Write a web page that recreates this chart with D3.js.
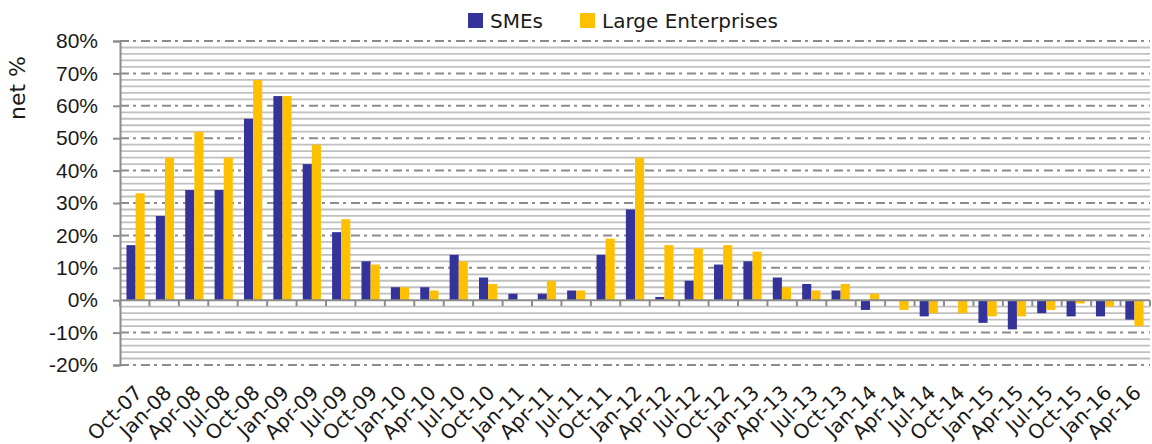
<!DOCTYPE html>
<html>
<head>
<meta charset="utf-8">
<script src="https://cdn.jsdelivr.net/npm/d3@7"></script>
<style>
  body { margin: 0; background: #fff; }
  svg { font-family: "DejaVu Sans", sans-serif; }
</style>
</head>
<body>
<svg id="chart" width="1152" height="444"></svg>
<script>
const quarters = ['Oct-07', 'Jan-08', 'Apr-08', 'Jul-08', 'Oct-08', 'Jan-09', 'Apr-09', 'Jul-09', 'Oct-09',
  'Jan-10', 'Apr-10', 'Jul-10', 'Oct-10', 'Jan-11', 'Apr-11', 'Jul-11', 'Oct-11', 'Jan-12', 'Apr-12',
  'Jul-12', 'Oct-12', 'Jan-13', 'Apr-13', 'Jul-13', 'Oct-13', 'Jan-14', 'Apr-14', 'Jul-14', 'Oct-14',
  'Jan-15', 'Apr-15', 'Jul-15', 'Oct-15', 'Jan-16', 'Apr-16'];

const smes = [17, 26, 34, 34, 56, 63, 42, 21, 12, 4, 4, 14, 7, 2, 2, 3, 14, 28, 1, 6, 11, 12, 7, 5, 3,
  -3, 0, -5, 0, -7, -9, -4, -5, -5, -6];

const large = [33, 44, 52, 44, 68, 63, 48, 25, 11, 4, 3, 12, 5, 0, 6, 3, 19, 44, 17, 16, 17, 15, 4, 3, 5,
  2, -3, -4, -4, -5, -5, -3, -1, -2, -8];

const seriesNames = ['SMEs', 'Large Enterprises'];
const seriesColors = ['#333399', '#ffc000'];
const yTicks = [-20, -10, 0, 10, 20, 30, 40, 50, 60, 70, 80];

const svg = d3.select('#chart');
const plotLeft = 120, plotRight = 1150, plotTop = 41, plotBottom = 365;

const x = d3.scaleBand().domain(quarters).range([plotLeft, plotRight]).paddingInner(0.38).paddingOuter(0.22);
const xs = d3.scaleBand().domain([0, 1]).range([0, x.bandwidth()]);
const y = d3.scaleLinear().domain([-20, 80]).range([plotBottom, plotTop]);

// minor gridlines every 2%
const minor = d3.range(-20, 81, 2).filter((v) => v % 10 !== 0);
svg.append('g')
  .selectAll('line')
  .data(minor)
  .join('line')
  .attr('x1', plotLeft)
  .attr('x2', plotRight)
  .attr('y1', (d) => y(d))
  .attr('y2', (d) => y(d))
  .attr('stroke', '#c0c0c0')
  .attr('stroke-width', 1.8);

// major dash-dot gridlines
svg.append('g')
  .selectAll('line')
  .data(yTicks.filter((d) => d !== 0))
  .join('line')
  .attr('x1', plotLeft)
  .attr('x2', plotRight)
  .attr('y1', (d) => y(d))
  .attr('y2', (d) => y(d))
  .attr('stroke', '#8c8c8c')
  .attr('stroke-width', 2)
  .attr('stroke-dasharray', '9,4,3,5');

// y axis
const yAxis = svg.append('g')
  .attr('transform', `translate(${plotLeft},0)`)
  .call(d3.axisLeft(y).tickValues(yTicks).tickSize(7).tickPadding(15).tickFormat((d) => d + '%'));
yAxis.select('.domain').attr('stroke', '#8c8c8c').attr('stroke-width', 2);
yAxis.selectAll('.tick line').attr('stroke', '#8c8c8c').attr('stroke-width', 2);
yAxis.selectAll('.tick text').attr('font-size', 21).attr('fill', '#1a1a1a');

svg.append('text')
  .attr('transform', `translate(25,88) rotate(-90)`)
  .attr('text-anchor', 'middle')
  .attr('font-size', 22)
  .attr('fill', '#1a1a1a')
  .text('net %');

// bars
const rows = quarters.map((q, i) => ({ q, vals: [smes[i], large[i]] }));
svg.append('g')
  .selectAll('g')
  .data(rows)
  .join('g')
  .attr('transform', (d) => `translate(${x(d.q)},0)`)
  .selectAll('rect')
  .data((d) => d.vals.map((v, k) => ({ v, k })))
  .join('rect')
  .attr('x', (d) => xs(d.k))
  .attr('width', xs.bandwidth())
  .attr('y', (d) => y(Math.max(0, d.v)))
  .attr('height', (d) => Math.abs(y(d.v) - y(0)))
  .attr('fill', (d) => seriesColors[d.k]);

// zero line with category ticks
const xAxis = svg.append('g').attr('transform', `translate(0,${y(0)})`);
xAxis.append('line')
  .attr('x1', plotLeft).attr('x2', plotRight)
  .attr('stroke', '#8c8c8c').attr('stroke-width', 2);
xAxis.selectAll('.ct')
  .data(d3.range(quarters.length + 1))
  .join('line')
  .attr('class', 'ct')
  .attr('x1', (d) => plotLeft + d * (plotRight - plotLeft) / quarters.length)
  .attr('x2', (d) => plotLeft + d * (plotRight - plotLeft) / quarters.length)
  .attr('y1', 0).attr('y2', 6)
  .attr('stroke', '#8c8c8c').attr('stroke-width', 2);

// rotated category labels
svg.append('g')
  .selectAll('text')
  .data(quarters)
  .join('text')
  .attr('transform', (d) => `translate(${x(d) + x.bandwidth() / 2 - 2},${plotBottom + 19}) rotate(-45)`)
  .attr('text-anchor', 'end')
  .attr('dy', '0.7em')
  .attr('font-size', 20)
  .attr('fill', '#1a1a1a')
  .text((d) => d);

// legend
const legendX = [468, 580];
const legend = svg.append('g')
  .selectAll('g')
  .data(seriesNames)
  .join('g')
  .attr('transform', (d, i) => `translate(${legendX[i]},13)`);
legend.append('rect')
  .attr('width', 15).attr('height', 15)
  .attr('fill', (d, i) => seriesColors[i]);
legend.append('text')
  .attr('x', 22).attr('y', 15)
  .attr('font-size', 20)
  .attr('fill', '#1a1a1a')
  .text((d) => d);
</script>
</body>
</html>
